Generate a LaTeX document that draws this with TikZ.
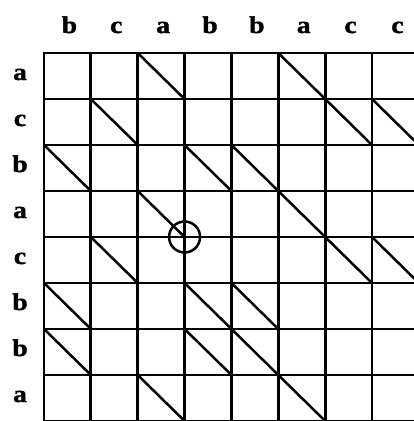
\documentclass[tikz,border=0pt]{standalone}
\usepackage{fontspec}
\setmainfont{Liberation Serif}
\newfontfamily\seqfont{Liberation Serif}[FakeStretch=1.15, FakeBold=1.5]
\begin{document}
\begin{tikzpicture}[
  x=1pt, y=-1pt,
  every node/.style={font=\seqfont\fontsize{24}{24}\selectfont\bfseries},
  gridline/.style={line width=2.8pt, line cap=rect},
  matchline/.style={line width=2.5pt},
  hit/.style={circle, draw, line width=2.5pt, minimum size=31pt, inner sep=0pt},
]
\useasboundingbox (0,0) rectangle (414,421);

% sequence labels
\foreach \colch [count=\j] in {b,c,a,b,b,a,c,c}
  \node[anchor=base] (col\j) at ({44+46.86*(\j-0.5)+2}, 33) {\colch};
\foreach \rowch [count=\i] in {a,c,b,a,c,b,b,a}
  \node[anchor=base] (row\i) at (20, {53+46*(\i-0.5)+4}) {\rowch};

% grid
\foreach \k in {0,...,8} {
  \draw[gridline] ({44+46.86*\k}, 53) -- ({44+46.86*\k}, 421);
  \draw[gridline] (44, {53+46*\k}) -- (419, {53+46*\k});
}

% matches
\foreach \rowch [count=\i] in {a,c,b,a,c,b,b,a} {
  \foreach \colch [count=\j] in {b,c,a,b,b,a,c,c} {
    \ifx\rowch\colch
      \draw[matchline] ({44+46.86*(\j-1)}, {53+46*(\i-1)}) -- ({44+46.86*\j}, {53+46*\i});
    \fi
  }
}

\node[hit] (mark) at ({44+46.86*3}, {53+46*4}) {};

\end{tikzpicture}
\end{document}
